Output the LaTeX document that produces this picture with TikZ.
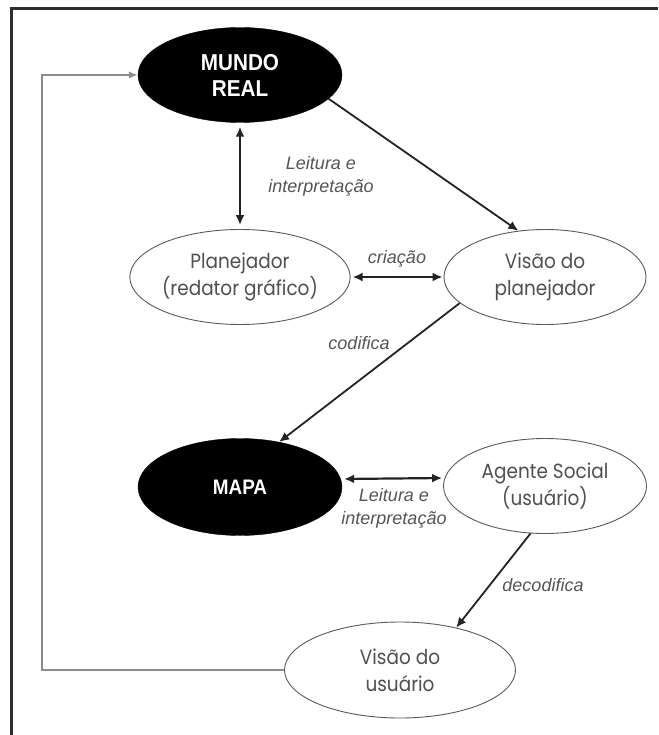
\documentclass[tikz,border=0pt]{standalone}
\usepackage{fontspec}
\setmainfont[FakeStretch=0.9]{Poppins}
\newfontfamily\labelfont{Liberation Sans}
\newfontfamily\headfont[FakeStretch=0.9]{Liberation Sans}
\usetikzlibrary{shapes.geometric,arrows.meta}

\definecolor{framecol}{HTML}{2E2E2E}
\definecolor{inkcol}{HTML}{232323}
\definecolor{textcol}{HTML}{505050}
\definecolor{labelcol}{HTML}{555555}
\definecolor{loopcol}{HTML}{8C8C8C}
\definecolor{rimcol}{HTML}{5A5A5A}

\tikzset{
  x=1pt, y=-1pt,
  whitebox/.style={ellipse, draw=rimcol, line width=0.9pt, fill=white, inner sep=0pt,
    text=textcol, align=center, font=\fontsize{20.5}{27}\selectfont},
  blackbox/.style={ellipse, draw=black, fill=black, inner sep=0pt,
    text=white, align=center, font=\headfont\bfseries\fontsize{21}{25}\selectfont},
  flow/.style={draw=inkcol, line width=1.8pt, -{Latex[length=10pt,width=9pt]}},
  twoway/.style={draw=inkcol, line width=2.2pt, {Latex[length=10pt,width=9pt]}-{Latex[length=10pt,width=9pt]}},
  loopline/.style={draw=loopcol, line width=1.8pt, -{Latex[length=9pt,width=7.5pt]}},
  tag/.style={text=labelcol, align=center, inner sep=0pt,
    font=\labelfont\itshape\fontsize{18}{23}\selectfont}
}

\begin{document}
\begin{tikzpicture}
  \useasboundingbox (0,0) rectangle (658,735);
  \fill[white] (0,0) rectangle (658,735);

  % frame (top and left edges)
  \draw[framecol, line width=3pt] (11,735) -- (11,8.5) -- (658,8.5);

  % nodes
  \node[blackbox, minimum width=204pt, minimum height=95pt,
        font=\headfont\bfseries\fontsize{23}{26}\selectfont] (real) at (240,75) {MUNDO\\REAL};
  \node[whitebox, minimum width=204pt, minimum height=95pt] (plan) at (240,277) {Planejador\\(redator gráfico)};
  \node[whitebox, minimum width=202pt, minimum height=95pt] (vplan) at (545,277) {Visão do\\planejador};
  \node[blackbox, minimum width=204pt, minimum height=97pt] (mapa) at (240,487) {MAPA};
  \node[whitebox, minimum width=203pt, minimum height=95pt] (agente) at (545,486) {Agente Social\\(usuário)};
  \node[whitebox, minimum width=231pt, minimum height=96pt] (vuser) at (400,670) {Visão do\\usuário};

  % connectors
  \draw[twoway, shorten <=4pt, shorten >=4pt] (real.south) -- (plan.north);
  \draw[flow] (real.-15) -- (vplan.120);
  \draw[twoway, shorten <=2pt, shorten >=1pt] (plan.east) -- (vplan.west);
  \draw[flow] (vplan.197) -- (mapa.49);
  \draw[twoway, shorten <=2pt, shorten >=1pt] ([yshift=8pt]mapa.east) -- ([yshift=8pt]agente.west);
  \draw[flow] (agente.253) -- (vuser.37);
  \draw[loopline] (vuser.west) -- ++(-242,0) |- (real.west);

  % labels
  \node[tag] (t1) at (321,176) {Leitura e\\interpretação};
  \node[tag] (t2) at (397,259) {criação};
  \node[tag] (t3) at (359,343) {codifica};
  \node[tag] (t4) at (394,508) {Leitura e\\interpretação};
  \node[tag] (t5) at (543,585) {decodifica};
\end{tikzpicture}
\end{document}
